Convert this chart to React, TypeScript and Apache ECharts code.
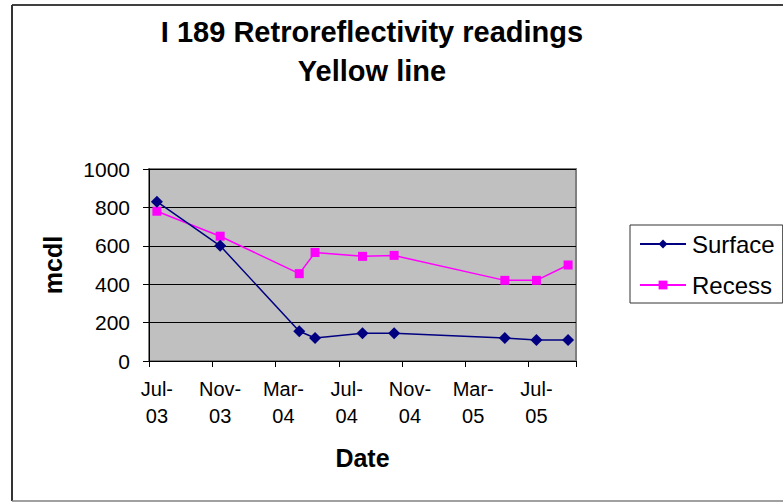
import React, { useEffect, useRef } from "react";
import * as echarts from "echarts";

const months = [
  "Jul-03", "Aug-03", "Sep-03", "Oct-03", "Nov-03", "Dec-03",
  "Jan-04", "Feb-04", "Mar-04", "Apr-04", "May-04", "Jun-04",
  "Jul-04", "Aug-04", "Sep-04", "Oct-04", "Nov-04", "Dec-04",
  "Jan-05", "Feb-05", "Mar-05", "Apr-05", "May-05", "Jun-05",
  "Jul-05", "Aug-05", "Sep-05",
];

const readingMonths = ["Jul-03", "Nov-03", "Apr-04", "May-04", "Aug-04", "Oct-04", "May-05", "Jul-05", "Sep-05"];
const surface = [830, 600, 155, 120, 145, 145, 120, 110, 110];
const recess = [780, 650, 455, 565, 545, 550, 420, 420, 500];

const yTicks = [0, 200, 400, 600, 800, 1000];

const FONT = 'Arial, "Liberation Sans", sans-serif';

function toSeries(values: number[]) {
  return months.map((m) => {
    const i = readingMonths.indexOf(m);
    return i >= 0 ? values[i] : null;
  });
}

export default function App() {
  const ref = useRef<HTMLDivElement>(null);
  useEffect(() => {
    document.body.style.margin = "0";
    const chart = echarts.init(ref.current!, null, { renderer: "svg" });
    chart.setOption({
      animation: false,
      backgroundColor: "#ffffff",
      textStyle: { fontFamily: FONT },
      title: {
        text: "I 189 Retroreflectivity readings\nYellow line",
        left: 372,
        top: 12,
        textAlign: "center",
        padding: 0,
        textStyle: { fontFamily: FONT, fontSize: 29, fontWeight: "bold", color: "#000", lineHeight: 39 },
      },
      legend: {
        orient: "vertical",
        left: 630,
        top: 225,
        padding: [5, 8, 4, 9],
        itemGap: 13,
        itemWidth: 46,
        itemHeight: 11,
        borderColor: "#333",
        borderWidth: 1,
        backgroundColor: "#fff",
        textStyle: { fontFamily: FONT, fontSize: 24, color: "#000", lineHeight: 28, padding: [0, 0, 0, 1] },
        data: ["Surface", "Recess"],
      },
      grid: {
        left: 149,
        right: 207,
        top: 169,
        bottom: 141,
        show: true,
        backgroundColor: "#C0C0C0",
        borderColor: "#808080",
        borderWidth: 2,
      },
      xAxis: {
        type: "category",
        data: months,
        boundaryGap: true,
        name: "Date",
        nameLocation: "middle",
        nameGap: 84,
        nameTextStyle: { fontFamily: FONT, fontSize: 25, fontWeight: "bold", color: "#000" },
        axisLine: { lineStyle: { color: "#000", width: 1 } },
        axisTick: { show: true, interval: 3, length: 6, lineStyle: { color: "#000" } },
        axisLabel: {
          interval: 3,
          margin: 14,
          fontFamily: FONT,
          fontSize: 20,
          lineHeight: 27,
          color: "#000",
          formatter: (v: string) => v.replace("-", "-\n"),
        },
        splitLine: { show: false },
      },
      yAxis: {
        type: "value",
        min: 0,
        max: 1000,
        interval: 200,
        name: "mcdl",
        nameLocation: "middle",
        nameRotate: 90,
        nameGap: 84,
        nameTextStyle: { fontFamily: FONT, fontSize: 25, fontWeight: "bold", color: "#000" },
        axisLine: { show: true, lineStyle: { color: "#000", width: 1 } },
        axisTick: { show: true, length: 6, lineStyle: { color: "#000" } },
        axisLabel: {
          margin: 19,
          fontFamily: FONT,
          fontSize: 21,
          color: "#000",
          formatter: (v: number) => (yTicks.includes(v) ? String(v) : ""),
        },
        splitLine: { show: true, lineStyle: { color: "#000", width: 1 } },
      },
      series: [
        {
          name: "Surface",
          type: "line",
          data: toSeries(surface),
          connectNulls: true,
          showSymbol: true,
          showAllSymbol: true,
          symbol: "diamond",
          symbolSize: 12,
          lineStyle: { color: "#000080", width: 1.5 },
          itemStyle: { color: "#000080" },
          z: 3,
        },
        {
          name: "Recess",
          type: "line",
          data: toSeries(recess),
          connectNulls: true,
          showSymbol: true,
          showAllSymbol: true,
          symbol: "rect",
          symbolSize: 9,
          lineStyle: { color: "#FF00FF", width: 1.5 },
          itemStyle: { color: "#FF00FF" },
          z: 2,
        },
      ],
      graphic: [
        { type: "line", shape: { x1: 12, y1: 5, x2: 783, y2: 5 }, style: { stroke: "#000", lineWidth: 1.5 } },
        { type: "line", shape: { x1: 12, y1: 5, x2: 12, y2: 501 }, style: { stroke: "#333", lineWidth: 2 } },
        { type: "line", shape: { x1: 12, y1: 501, x2: 783, y2: 501 }, style: { stroke: "#808080", lineWidth: 1.5 } },
      ],
    });
    return () => chart.dispose();
  }, []);
  return <div ref={ref} style={{ width: 783, height: 502 }} />;
}
